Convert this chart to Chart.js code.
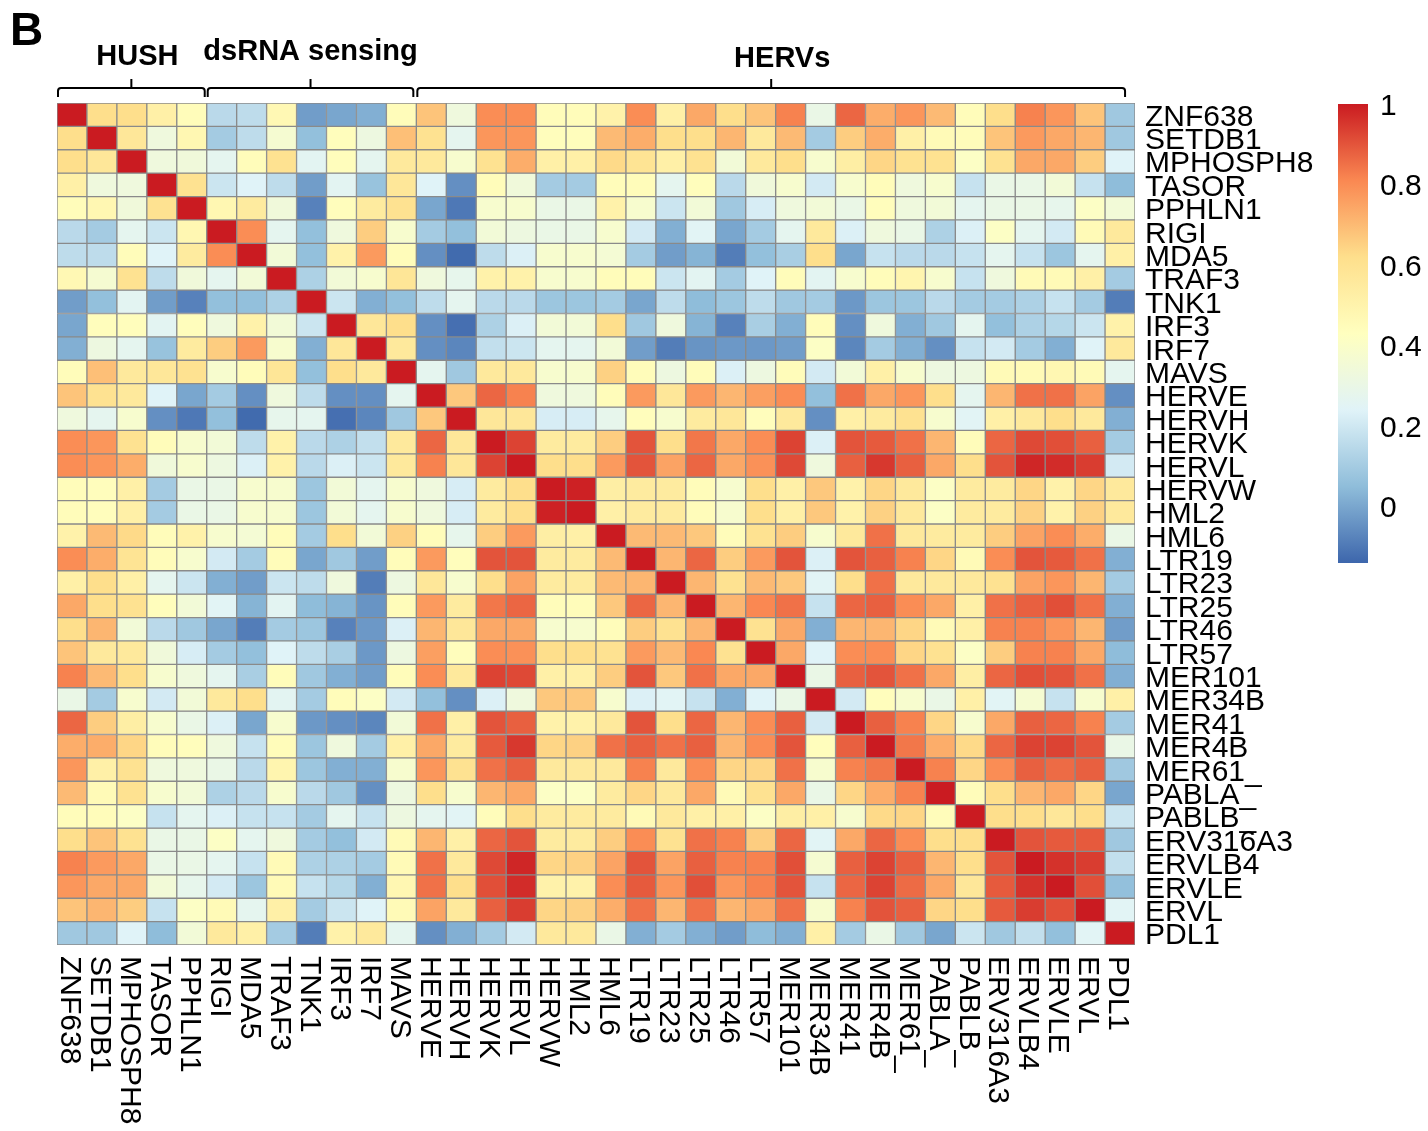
<!DOCTYPE html>
<html>
<head>
<meta charset="utf-8">
<script src="https://cdn.jsdelivr.net/npm/chart.js@4.4.1/dist/chart.umd.min.js"></script>
<style>
  html, body { margin: 0; padding: 0; background: #fff; }
  #wrap { width: 1428px; height: 1131px; position: relative; }
</style>
</head>
<body>
<div id="wrap"><canvas id="myChart"></canvas></div>
<script>
const genes = [
  "ZNF638", "SETDB1", "MPHOSPH8", "TASOR", "PPHLN1", "RIGI", "MDA5", "TRAF3",
  "TNK1", "IRF3", "IRF7", "MAVS", "HERVE", "HERVH", "HERVK", "HERVL", "HERVW",
  "HML2", "HML6", "LTR19", "LTR23", "LTR25", "LTR46", "LTR57", "MER101",
  "MER34B", "MER41", "MER4B", "MER61_", "PABLA_", "PABLB_", "ERV316A3",
  "ERVLB4", "ERVLE", "ERVL", "PDL1"
];

// gene groups shown above the columns (name, first gene, last gene)
const groupNames = ["HUSH", "dsRNA sensing", "HERVs"];
const groupFirst = ["ZNF638", "RIGI", "HERVE"];
const groupLast = ["PPHLN1", "MAVS", "ERVL"];

const legendTicks = [1, 0.8, 0.6, 0.4, 0.2, 0];

// correlation, upper triangle: row i holds the values for columns i+1 .. 35
const upper = [
  [0.62,0.62,0.52,0.45,0.15,0.16,0.47,-0.02,0.00,0.02,0.45, 0.68,0.33,0.80,0.80,0.45,0.45,0.51,0.80,0.52,0.74,0.62,0.68, 0.82,0.30,0.87,0.73,0.78,0.70,0.45,0.62,0.82,0.78,0.68,0.09],
  [0.57,0.33,0.48,0.10,0.16,0.37,0.06,0.44,0.32,0.69, 0.60,0.27,0.78,0.78,0.44,0.44,0.70,0.73,0.62,0.62,0.71,0.56, 0.70,0.10,0.66,0.73,0.52,0.46,0.45,0.68,0.77,0.74,0.71,0.09],
  [0.33,0.34,0.27,0.45,0.60,0.26,0.44,0.27,0.56, 0.56,0.38,0.60,0.73,0.52,0.52,0.63,0.59,0.52,0.60,0.35,0.56, 0.62,0.38,0.53,0.64,0.60,0.60,0.41,0.60,0.74,0.74,0.66,0.24],
  [0.60,0.19,0.24,0.16,-0.02,0.26,0.07,0.57, 0.24,-0.05,0.45,0.34,0.10,0.10,0.45,0.45,0.27,0.44,0.15,0.34, 0.38,0.21,0.38,0.45,0.33,0.38,0.18,0.30,0.30,0.35,0.18,0.05],
  [0.48,0.55,0.34,-0.08,0.44,0.55,0.60, 0.00,-0.10,0.38,0.38,0.30,0.30,0.51,0.38,0.19,0.35,0.09,0.22, 0.33,0.35,0.30,0.44,0.33,0.35,0.27,0.30,0.30,0.28,0.41,0.35],
  [0.80,0.27,0.06,0.33,0.66,0.38, 0.10,0.06,0.35,0.32,0.30,0.30,0.38,0.21,0.02,0.25,0.00,0.10, 0.27,0.56,0.23,0.33,0.30,0.12,0.23,0.41,0.27,0.21,0.46,0.56],
  [0.35,0.06,0.51,0.77,0.45, -0.05,-0.13,0.16,0.23,0.38,0.38,0.36,0.10,-0.02,0.03,-0.09,0.06, 0.11,0.62,0.00,0.18,0.15,0.15,0.18,0.27,0.18,0.08,0.27,0.52],
  [0.12,0.35,0.38,0.58, 0.33,0.28,0.51,0.51,0.38,0.38,0.45,0.45,0.19,0.26,0.10,0.24, 0.45,0.26,0.38,0.45,0.49,0.38,0.18,0.33,0.46,0.46,0.52,0.10],
  [0.19,0.02,0.06, 0.16,0.27,0.15,0.15,0.08,0.08,0.10,0.00,0.16,0.05,0.08,0.16, 0.09,0.10,-0.03,0.08,0.08,0.15,0.10,0.10,0.12,0.18,0.10,-0.09],
  [0.57,0.62, -0.05,-0.12,0.12,0.23,0.35,0.35,0.62,0.09,0.33,0.03,-0.08,0.11, 0.02,0.45,-0.05,0.33,0.02,0.09,0.27,0.06,0.12,0.14,0.19,0.51],
  [0.56, -0.05,-0.07,0.17,0.19,0.27,0.27,0.35,-0.02,-0.09,-0.04,-0.03,-0.03, -0.02,0.41,-0.07,0.10,0.02,-0.05,0.18,0.21,0.10,0.02,0.24,0.56],
  [0.27,0.09,0.56,0.56,0.38,0.38,0.65,0.45,0.32,0.45,0.23,0.32, 0.45,0.21,0.35,0.52,0.38,0.32,0.32,0.46,0.46,0.48,0.46,0.27],
  [0.67,0.87,0.82,0.33,0.33,0.45,0.77,0.57,0.77,0.71,0.76, 0.80,0.06,0.85,0.74,0.78,0.62,0.27,0.71,0.85,0.85,0.75,-0.05],
  [0.57,0.57,0.22,0.22,0.28,0.44,0.38,0.55,0.57,0.44, 0.56,-0.05,0.52,0.55,0.60,0.38,0.25,0.52,0.56,0.62,0.56,0.02],
  [0.93,0.55,0.55,0.66,0.90,0.62,0.84,0.74,0.80, 0.93,0.23,0.90,0.89,0.85,0.71,0.45,0.87,0.92,0.91,0.88,0.10],
  [0.62,0.62,0.77,0.90,0.75,0.87,0.74,0.79, 0.92,0.33,0.88,0.95,0.88,0.74,0.62,0.90,0.98,0.97,0.94,0.21],
  [0.99,0.53,0.55,0.55,0.45,0.38,0.62, 0.52,0.67,0.51,0.64,0.56,0.41,0.55,0.55,0.64,0.51,0.64,0.56],
  [0.52,0.55,0.55,0.45,0.38,0.62, 0.52,0.67,0.51,0.65,0.56,0.41,0.55,0.55,0.65,0.51,0.65,0.56],
  [0.70,0.70,0.67,0.45,0.60, 0.66,0.38,0.56,0.85,0.56,0.55,0.55,0.66,0.75,0.80,0.73,0.30],
  [0.71,0.87,0.66,0.77, 0.90,0.23,0.90,0.88,0.82,0.64,0.46,0.80,0.90,0.89,0.85,0.02],
  [0.71,0.60,0.70, 0.67,0.25,0.62,0.85,0.56,0.56,0.56,0.60,0.75,0.78,0.71,0.10],
  [0.71,0.81, 0.85,0.18,0.87,0.88,0.80,0.74,0.52,0.85,0.88,0.91,0.85,0.02],
  [0.60, 0.74,0.02,0.71,0.71,0.64,0.46,0.52,0.82,0.82,0.78,0.71,-0.02],
  [0.74,0.24,0.80,0.80,0.64,0.60,0.41,0.66,0.82,0.82,0.74,0.05],
  [0.30,0.88,0.90,0.85,0.74,0.53,0.87,0.91,0.90,0.85,0.02],
  [0.21,0.44,0.38,0.30,0.52,0.25,0.37,0.18,0.38,0.52],
  [0.88,0.82,0.64,0.38,0.74,0.88,0.87,0.82,0.10],
  [0.84,0.73,0.63,0.87,0.93,0.93,0.90,0.30],
  [0.82,0.64,0.80,0.88,0.86,0.88,0.09],
  [0.45,0.62,0.71,0.74,0.64,0.00],
  [0.62,0.62,0.57,0.62,0.19],
  [0.90,0.89,0.89,0.09],
  [0.96,0.94,0.17],
  [0.91,0.06],
  [0.25]
];

// full symmetric matrix
const corr = genes.map((_, i) => genes.map((_, j) => {
  if (i === j) return 1;
  return i < j ? upper[i][j - i - 1] : upper[j][i - j - 1];
}));

// reversed RdYlBu ramp
const vmin = -0.14, vmax = 1;
const ramp = ["#3D66AC", "#8FBDDA", "#E0F3F8", "#FFFFBF", "#FEDF8C", "#FA8852", "#CA1B21"];
const rampRgb = ramp.map(h => [1, 3, 5].map(k => parseInt(h.substr(k, 2), 16)));

function colorFor(v) {
  let t = (v - vmin) / (vmax - vmin);
  t = Math.max(0, Math.min(1, t)) * (ramp.length - 1);
  const i = Math.min(Math.floor(t), ramp.length - 2);
  const f = t - i;
  const a = rampRgb[i], b = rampRgb[i + 1];
  const c = a.map((x, k) => Math.round(x + (b[k] - x) * f));
  return `rgb(${c[0]},${c[1]},${c[2]})`;
}

const FONT = '"Liberation Sans", Arial, sans-serif';

const decorations = {
  id: "decorations",
  afterDraw(chart) {
    const { ctx, chartArea } = chart;
    const xs = chart.scales.x, ys = chart.scales.y;
    const cellW = (chartArea.right - chartArea.left) / genes.length;
    ctx.save();
    ctx.fillStyle = "#000";

    // row labels on the right
    ctx.font = "30px " + FONT;
    ctx.textAlign = "left";
    ctx.textBaseline = "alphabetic";
    genes.forEach((g, i) => {
      ctx.fillText(g, chartArea.right + 10, ys.getPixelForValue(i + 0.5) + 11);
    });

    // column labels, rotated to read downwards
    genes.forEach((g, j) => {
      ctx.save();
      ctx.translate(xs.getPixelForValue(j), chartArea.bottom + 11);
      ctx.rotate(Math.PI / 2);
      ctx.fillText(g, 0, 10.8);
      ctx.restore();
    });

    // group brackets and titles
    const titleShift = [6, 0, 11];
    const titleBase = [65, 60, 67];
    const endOver = [-2, -3, 20];
    ctx.strokeStyle = "#000";
    ctx.lineWidth = 2;
    groupNames.forEach((name, k) => {
      const a = chartArea.left + genes.indexOf(groupFirst[k]) * cellW + 1;
      const b = chartArea.left + (genes.indexOf(groupLast[k]) + 1) * cellW + endOver[k];
      const mid = (a + b) / 2;
      const yb = 88;
      ctx.beginPath();
      ctx.moveTo(a, 97);
      ctx.lineTo(a, yb + 3);
      ctx.quadraticCurveTo(a, yb, a + 3, yb);
      ctx.lineTo(b - 3, yb);
      ctx.quadraticCurveTo(b, yb, b, yb + 3);
      ctx.lineTo(b, 97);
      ctx.moveTo(mid, yb);
      ctx.lineTo(mid, 79);
      ctx.stroke();
      ctx.font = "bold 29px " + FONT;
      ctx.textAlign = "center";
      ctx.fillText(name, mid + titleShift[k], titleBase[k]);
    });

    // panel letter
    ctx.font = "bold 46px " + FONT;
    ctx.textAlign = "left";
    ctx.fillText("B", 10, 45);

    // colour key
    const lx = 1338, lw = 30, top = 104, bot = 563;
    const grad = ctx.createLinearGradient(0, top, 0, bot);
    ramp.forEach((c, k) => grad.addColorStop(1 - k / (ramp.length - 1), c));
    ctx.fillStyle = grad;
    ctx.fillRect(lx, top, lw, bot - top);
    ctx.fillStyle = "#000";
    ctx.font = "30px " + FONT;
    ctx.textAlign = "left";
    legendTicks.forEach(v => {
      const y = top + (vmax - v) / (vmax - vmin) * (bot - top);
      ctx.fillText(String(v), 1380, y + 10.5);
    });
    ctx.restore();
  }
};

const data = {
  labels: genes,
  datasets: genes.map((g, i) => ({
    label: g,
    data: genes.map(() => [i, i + 1]),
    backgroundColor: corr[i].map(colorFor),
    borderColor: "#8a8a8a",
    borderWidth: 1,
    borderSkipped: false,
    grouped: false,
    barPercentage: 1,
    categoryPercentage: 1,
  })),
};

const config = {
  type: "bar",
  data: data,
  options: {
    responsive: true,
    maintainAspectRatio: false,
    animation: false,
    layout: {
      padding: { left: 57, top: 103, right: 293, bottom: 186 },
    },
    plugins: {
      legend: { display: false },
      tooltip: {
        callbacks: {
          title: items => genes[items[0].datasetIndex] + " / " + genes[items[0].dataIndex],
          label: item => corr[item.datasetIndex][item.dataIndex].toFixed(2),
        },
      },
    },
    scales: {
      x: { display: false },
      y: { display: false, min: 0, max: 36, reverse: true },
    },
  },
  plugins: [decorations],
};

const newChart = new Chart("myChart", config);
</script>
</body>
</html>
